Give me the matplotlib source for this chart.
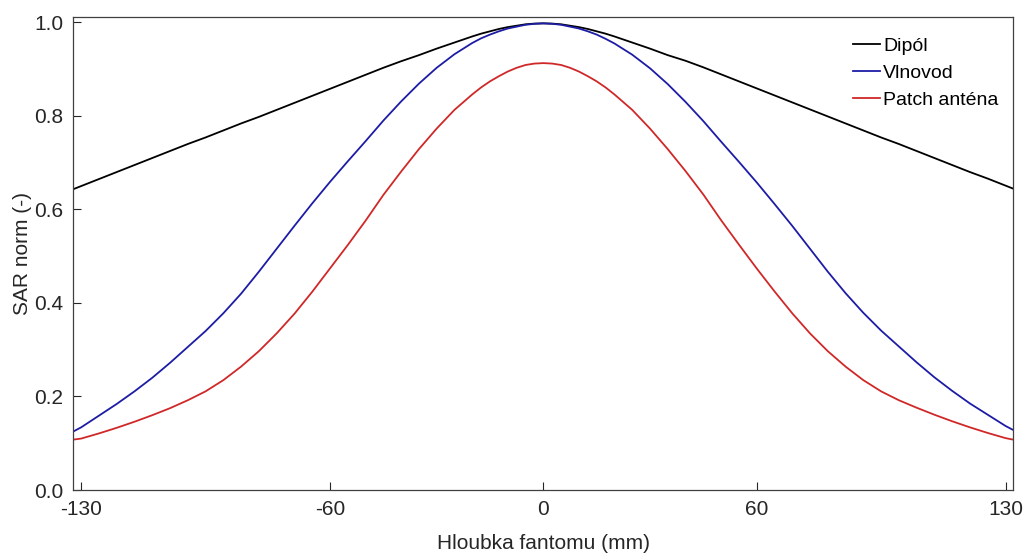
import matplotlib
matplotlib.use("Agg")
import matplotlib.pyplot as plt

plt.rcParams['font.family'] = ['Liberation Sans', 'DejaVu Sans']

# hloubka fantomu (mm)
x = [-132, -130, -125, -120, -115, -110, -105, -100, -95, -90, -85, -80, -75, -70,
     -65, -60, -55, -50, -45, -40, -35, -30, -25, -20, -17.5, -15, -12.5, -10, -7.5,
     -5, -2.5, 0, 2.5, 5, 7.5, 10, 12.5, 15, 17.5, 20, 25, 30, 35, 40, 45, 50, 55,
     60, 65, 70, 75, 80, 85, 90, 95, 100, 105, 110, 115, 120, 125, 130, 132]

# values, left edge -> right edge
dipol = [0.644, 0.650, 0.665, 0.680, 0.695, 0.710, 0.725, 0.740, 0.754, 0.769, 0.784,
         0.798, 0.813, 0.828, 0.843, 0.858, 0.873, 0.888, 0.903, 0.917, 0.930, 0.944,
         0.957, 0.970, 0.976, 0.981, 0.986, 0.990, 0.993, 0.996, 0.9975, 0.998,
         0.9975, 0.996, 0.993, 0.990, 0.986, 0.981, 0.976, 0.970, 0.957, 0.944, 0.930,
         0.918, 0.904, 0.889, 0.874, 0.859, 0.844, 0.829, 0.814, 0.799, 0.784, 0.769,
         0.754, 0.740, 0.725, 0.710, 0.695, 0.680, 0.666, 0.651, 0.645]

vlnovod = [0.126, 0.134, 0.159, 0.184, 0.211, 0.240, 0.272, 0.306, 0.340, 0.378, 0.420,
           0.467, 0.516, 0.565, 0.613, 0.659, 0.703, 0.746, 0.790, 0.831, 0.869, 0.903,
           0.932, 0.956, 0.966, 0.974, 0.981, 0.987, 0.991, 0.995, 0.997, 0.998,
           0.997, 0.995, 0.991, 0.987, 0.981, 0.974, 0.965, 0.955, 0.931, 0.902, 0.868,
           0.830, 0.789, 0.745, 0.702, 0.658, 0.612, 0.565, 0.516, 0.467, 0.421, 0.379,
           0.341, 0.307, 0.273, 0.241, 0.212, 0.185, 0.161, 0.137, 0.129]

patch = [0.108, 0.110, 0.121, 0.133, 0.146, 0.160, 0.175, 0.192, 0.211, 0.235, 0.264,
         0.297, 0.335, 0.377, 0.424, 0.474, 0.524, 0.576, 0.631, 0.681, 0.729, 0.773,
         0.813, 0.846, 0.861, 0.874, 0.885, 0.895, 0.903, 0.909, 0.912, 0.913,
         0.912, 0.909, 0.903, 0.895, 0.885, 0.874, 0.861, 0.846, 0.813, 0.773, 0.729,
         0.682, 0.632, 0.577, 0.525, 0.474, 0.425, 0.378, 0.335, 0.297, 0.264, 0.235,
         0.211, 0.192, 0.176, 0.161, 0.147, 0.134, 0.122, 0.111, 0.108]

series = [('Dipól', dipol, 'black'),
          ('Vlnovod', vlnovod, '#1c1ca6'),
          ('Patch anténa', patch, '#d02828')]

xticks = [-130, -60, 0, 60, 130]
yticks = [0.0, 0.2, 0.4, 0.6, 0.8, 1.0]

fig = plt.figure(figsize=(10.24, 5.54), dpi=100)
ax = fig.add_axes([0.0716, 0.1155, 0.918, 0.8533])

for name, vals, col in series:
    ax.plot(x, vals, color=col, lw=1.3, label=name)

ax.set_xlim(-132.2, 132.2)
ax.set_ylim(0, 1.011)
ax.set_xticks(xticks)
ax.set_xticklabels([str(v) for v in xticks])
ax.set_yticks(yticks)
ax.set_yticklabels(['%.1f' % v for v in yticks])

ax.tick_params(direction='in', length=6, width=0.8, colors='#262626',
               labelsize=15, pad=7)
for s in ax.spines.values():
    s.set_color('#404040')
    s.set_linewidth(0.9)

ax.set_xlabel('Hloubka fantomu (mm)', fontsize=15, color='#262626', labelpad=11)
ax.set_ylabel('SAR norm (-)', fontsize=15, color='#262626', labelpad=2)

ax.legend(loc='upper right', bbox_to_anchor=(0.984, 0.958), frameon=False,
          fontsize=14, handlelength=1.4, handletextpad=0.15, labelspacing=0.48,
          borderaxespad=0.0, borderpad=0.0)

fig.savefig('out.png', dpi=100)
